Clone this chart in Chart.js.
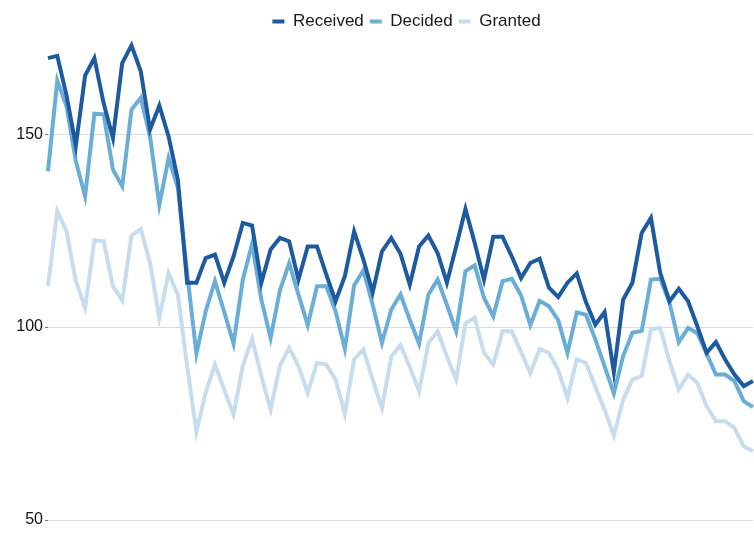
<!DOCTYPE html>
<html>
<head>
<meta charset="utf-8">
<script src="https://cdn.jsdelivr.net/npm/chart.js@4/dist/chart.umd.min.js"></script>
<style>
  html, body { margin: 0; padding: 0; background: #ffffff; }
  #wrap { width: 754px; height: 538px; }
</style>
</head>
<body>
<div id="wrap"><canvas id="chart" width="754" height="538"></canvas></div>
<script>
// values, one per period
const received = [
  169.7, 170.3, 160, 147.0, 165.2, 169.7, 158, 149.0, 168.4, 173.0,
  166.3, 151.2, 157.4, 149.4, 138.2, 111.5, 111.5, 117.9, 118.8, 111.5,
  118.3, 127.0, 126.3, 111.5, 120.1, 123.1, 122.2, 112.3, 120.9, 120.9,
  113.6, 106.7, 113.2, 124.8, 117.5, 109.0, 119.6, 123.1, 119.0, 111.0,
  120.9, 123.7, 119.2, 111.5, 120.9, 130.6, 121.8, 112.3, 123.4, 123.4,
  118.3, 112.7, 116.6, 117.7, 110.2, 107.8, 111.5, 113.9, 106.4, 100.6,
  103.9, 88.3, 107.1, 111.5, 124.4, 128.3, 114.0, 106.7, 109.9, 106.7,
  100.2, 93.3, 96.1, 91.6, 87.7, 84.7, 86.0
];
const decided = [
  140.4, 163.9, 157.2, 143.0, 133.9, 155.3, 155.1, 140.8, 136.5, 156.3,
  159.4, 149.4, 131.7, 143.8, 136.1, 114, 93.1, 104.1, 111.9, 103.9,
  95.7, 112.3, 121.5, 107.1, 97.2, 109.5, 116.6, 108.4, 100.5, 110.6,
  110.6, 104.1, 94.4, 110.8, 114.7, 105.8, 95.9, 104.5, 108.5, 101.9,
  95.7, 108.4, 112.3, 105.8, 98.9, 114.5, 116.0, 107.6, 102.8, 111.9,
  112.5, 108.2, 100.5, 106.8, 105.4, 101.8, 93.3, 103.8, 103.2, 96.8,
  89.9, 82.8, 92.5, 98.5, 99.0, 112.3, 112.5, 106.3, 96.1, 99.8,
  98.4, 93.1, 87.7, 87.7, 86.0, 80.8, 79.3
];
const granted = [
  110.6, 130.0, 124.8, 111.9, 105.0, 122.5, 122.2, 110.6, 106.9, 123.7,
  125.4, 116.6, 102.4, 114.0, 108.4, 89.8, 73.0, 83.0, 90.3, 83.8,
  77.3, 89.9, 96.9, 87.3, 78.6, 90.0, 94.6, 89.9, 83.0, 90.7,
  90.3, 86.4, 77.5, 91.6, 94.2, 86.4, 79.0, 92.3, 95.3, 89.7,
  83.4, 95.8, 98.9, 92.4, 86.4, 101.0, 102.4, 93.3, 90.3, 98.9,
  98.9, 93.5, 88.1, 94.3, 93.3, 88.9, 81.6, 91.6, 90.7, 84.6,
  78.6, 71.9, 81.2, 86.4, 87.3, 99.4, 99.8, 91.1, 83.8, 87.7,
  85.5, 79.5, 75.6, 75.6, 73.9, 69.1, 67.8
];
const periods = received.map((_, i) => String(i + 1));
const yTicks = [50, 100, 150];

const FONT = "'Liberation Sans', Arial, Helvetica, sans-serif";

// the legend sits a little right of the canvas centre in the original
const legendShift = {
  id: 'legendShift',
  afterLayout(chart) {
    chart.legend.left += 30;
    chart.legend.right += 30;
  }
};

function series(label, data, color) {
  return {
    label: label,
    data: data,
    borderColor: color,
    backgroundColor: color,
    borderWidth: 4,
    pointRadius: 0,
    tension: 0,
    fill: false
  };
}

new Chart(document.getElementById('chart'), {
  type: 'line',
  data: {
    labels: periods,
    datasets: [
      series('Received', received, '#1e5aa0'),
      series('Decided', decided, '#6aaed8'),
      series('Granted', granted, '#c8dcef')
    ]
  },
  options: {
    responsive: false,
    animation: false,
    layout: { padding: { top: 7, right: 1, bottom: 18, left: 0 } },
    plugins: {
      legend: {
        display: true,
        position: 'top',
        labels: {
          usePointStyle: true,
          pointStyle: 'line',
          pointStyleWidth: 12,
          padding: 6,
          color: '#1a1a1a',
          font: { family: FONT, size: 17 }
        }
      },
      tooltip: { enabled: false }
    },
    scales: {
      x: {
        type: 'category',
        display: false,
        offset: false
      },
      y: {
        min: 50,
        max: 174.4,
        afterBuildTicks: (axis) => { axis.ticks = yTicks.map(v => ({ value: v })); },
        afterFit: (axis) => { axis.width = 48; },
        border: { display: false },
        grid: {
          color: '#dcdcdc',
          tickColor: '#777777',
          tickLength: 3
        },
        ticks: {
          padding: 2,
          color: '#111111',
          font: { family: FONT, size: 16 }
        }
      }
    }
  },
  plugins: [legendShift]
});
</script>
</body>
</html>
